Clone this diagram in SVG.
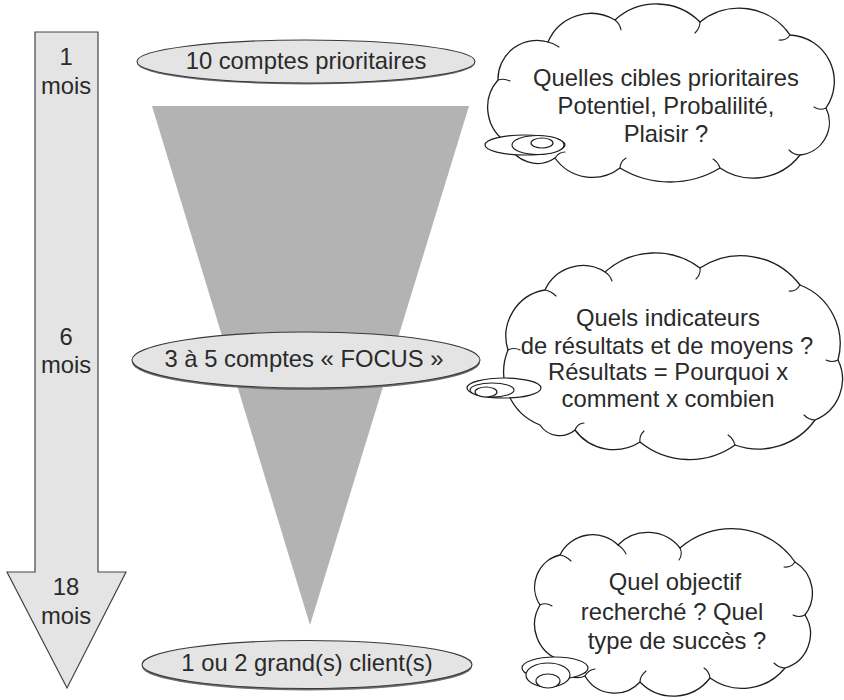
<svg xmlns="http://www.w3.org/2000/svg" width="844" height="700" viewBox="0 0 844 700">
<style>
text{font-family:"Liberation Sans",Arial,Helvetica,sans-serif;font-size:23.8px;fill:#2a2a2a;text-anchor:middle}
.lbl{fill:#e4e4e4;stroke:#3a3a3a;stroke-width:1.1}
.shadow{fill:#6e6e6e}
.cloud{fill:#ffffff;stroke:#1e1e1e;stroke-width:1.3;stroke-linejoin:round}
.curl{fill:none;stroke:#1e1e1e;stroke-width:1.1;stroke-linecap:round}
.bub{fill:#ffffff;stroke:#1e1e1e;stroke-width:1.2}
</style>
<rect width="844" height="700" fill="#ffffff"/>

<g id="timeline">
<path d="M35 32 H98 V572 H126 L67 688 L7 572 H35 Z" fill="#e4e4e4" stroke="#444" stroke-width="1.2" stroke-linejoin="miter"/>
<text x="66" y="65">1</text>
<text x="66" y="94">mois</text>
<text x="66" y="345">6</text>
<text x="66" y="373">mois</text>
<text x="66" y="595">18</text>
<text x="66" y="624">mois</text>
</g>

<g id="funnel">
<polygon points="152,106 469,106 310,625" fill="#b3b3b3"/>
</g>

<g id="level-10">
<ellipse class="shadow" cx="306" cy="63" rx="169" ry="21.5"/>
<ellipse class="lbl" cx="306" cy="61.5" rx="169" ry="21.5"/>
<text x="306" y="69">10 comptes prioritaires</text>
</g>

<g id="level-focus">
<ellipse class="shadow" cx="306" cy="362" rx="174" ry="28"/>
<ellipse class="lbl" cx="306" cy="360" rx="174" ry="28"/>
<text x="304" y="367">3 à 5 comptes « FOCUS »</text>
</g>

<g id="level-clients">
<ellipse class="shadow" cx="307" cy="666.5" rx="165" ry="24"/>
<ellipse class="lbl" cx="307" cy="664.5" rx="165" ry="24"/>
<text x="307" y="671">1 ou 2 grand(s) client(s)</text>
</g>

<g id="cloud-cibles">
<path class="cloud" d="M508 143 A41.4 41.4 0 0 1 498 80 A38.8 38.8 0 0 1 548 42 A46.8 46.8 0 0 1 615 20 A61.6 61.6 0 0 1 700 22 A61.8 61.8 0 0 1 790 35 A46.5 46.5 0 0 1 826 108 A32.7 32.7 0 0 1 800 155 A59.3 59.3 0 0 1 720 168 A96.3 96.3 0 0 1 620 168 A45.6 45.6 0 0 1 555 158 A31.3 31.3 0 0 1 508 143 Z"/>
<path class="curl" d="M498 80 Q504 78 510 81 M548 42 Q553 43 559 47 M615 20 Q620 24 621 30 M700 22 Q700 28 695 33 M790 35 Q786 41 779 40 M826 108 Q820 111 814 107 M800 155 Q794 155 789 150 M720 168 Q718 162 713 159 M620 168 Q620 162 626 158 M555 158 Q559 152 565 152"/>
<ellipse class="bub" cx="525" cy="145" rx="40" ry="10"/>
<ellipse class="bub" cx="538" cy="145" rx="26" ry="9.5"/>
<ellipse class="bub" cx="542" cy="143" rx="11" ry="5"/>
<text x="666" y="86">Quelles cibles prioritaires</text>
<text x="666" y="114">Potentiel, Probalilité,</text>
<text x="666" y="142">Plaisir ?</text>
</g>

<g id="cloud-indicateurs">
<path class="cloud" d="M540 425 A57.3 57.3 0 0 1 508 350 A46.8 46.8 0 0 1 545 290 A41.5 41.5 0 0 1 605 272 A75 75 0 0 1 700 268 A74.3 74.3 0 0 1 800 285 A63 63 0 0 1 838 360 A43.9 43.9 0 0 1 815 420 A69.7 69.7 0 0 1 735 445 A78.5 78.5 0 0 1 640 442 A48.4 48.4 0 0 1 575 430 A23.6 23.6 0 0 1 540 425 Z"/>
<path class="curl" d="M508 350 Q514 347 520 350 M545 290 Q551 291 556 296 M605 272 Q610 275 612 281 M700 268 Q701 274 696 279 M800 285 Q796 292 789 291 M838 360 Q832 363 826 360 M815 420 Q809 420 804 415 M735 445 Q733 438 728 435 M640 442 Q639 436 644 431 M575 430 Q578 423 584 423"/>
<ellipse class="bub" cx="504" cy="388" rx="37" ry="10"/>
<ellipse class="bub" cx="492" cy="390" rx="22" ry="7"/>
<ellipse class="bub" cx="486" cy="392" rx="11" ry="5"/>
<text x="668" y="326">Quels indicateurs</text>
<text x="667" y="354">de résultats et de moyens ?</text>
<text x="668" y="380">Résultats = Pourquoi x</text>
<text x="668" y="407">comment x combien</text>
</g>

<g id="cloud-objectif">
<path class="cloud" d="M560 660 A37.6 37.6 0 0 1 540 605 A32.9 32.9 0 0 1 560 555 A36.4 36.4 0 0 1 618 545 A41.3 41.3 0 0 1 680 548 A77.5 77.5 0 0 1 795 562 A36.4 36.4 0 0 1 805 615 A35.6 35.6 0 0 1 785 668 A55.2 55.2 0 0 1 710 678 A46.3 46.3 0 0 1 640 682 A34.3 34.3 0 0 1 585 676 A17.8 17.8 0 0 1 560 660 Z"/>
<path class="curl" d="M540 605 Q546 602 552 606 M560 555 Q566 556 571 561 M618 545 Q623 548 626 554 M680 548 Q683 554 679 560 M795 562 Q791 568 784 567 M805 615 Q799 618 793 615 M785 668 Q779 668 774 663 M710 678 Q709 671 704 668 M640 682 Q640 676 646 671 M585 676 Q588 670 595 669"/>
<ellipse class="bub" cx="555" cy="668" rx="33" ry="11"/>
<ellipse class="bub" cx="548" cy="675" rx="22" ry="12"/>
<ellipse class="bub" cx="548" cy="681" rx="12" ry="7"/>
<text x="675" y="590">Quel objectif</text>
<text x="672" y="620">recherché ? Quel</text>
<text x="677" y="649">type de succès ?</text>
</g>

<g id="connectors"></g>
</svg>
